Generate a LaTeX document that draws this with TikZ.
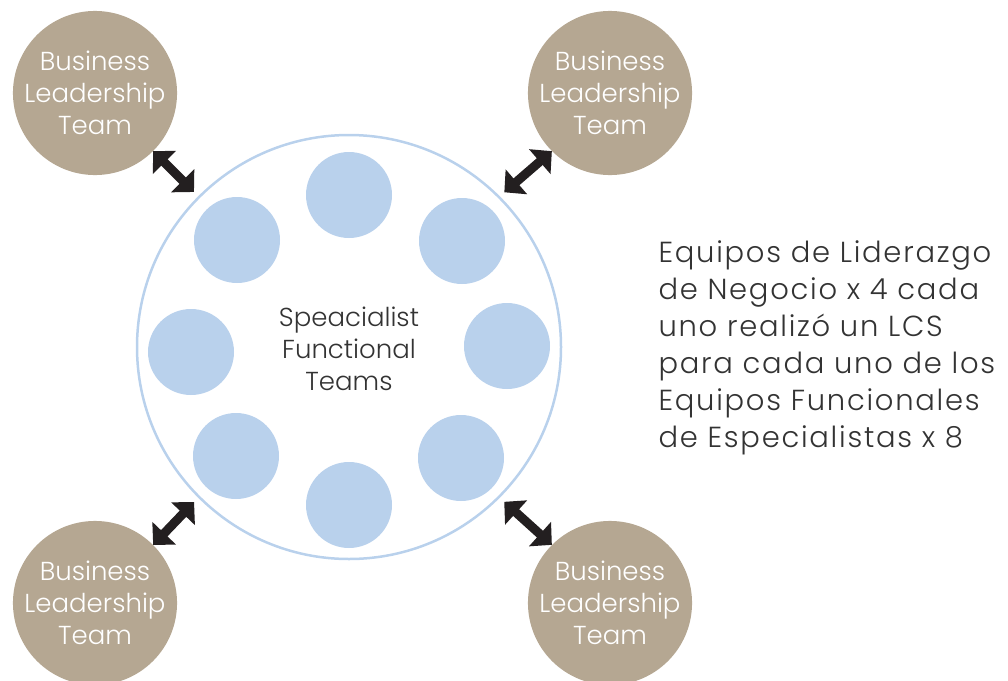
\documentclass[tikz,border=0pt]{standalone}
\usepackage{fontspec}
\IfFontExistsTF{Poppins Light}{\setmainfont{Poppins Light}}{\setmainfont{Poppins}}
\usepackage{tikz}
\usetikzlibrary{positioning,arrows.meta}
\definecolor{BizTan}{HTML}{B5A792}
\definecolor{TeamBlue}{HTML}{B9D1EC}
\definecolor{ArrowBlack}{HTML}{231F20}
\definecolor{TextGray}{HTML}{333333}
\tikzstyle{BizNode}=[circle, fill=BizTan, minimum size=164pt, inner sep=0pt, align=center, text=white, font=\fontsize{26}{32}\selectfont]
\tikzstyle{RingNode}=[circle, draw=TeamBlue, line width=2.5pt, minimum size=424pt, inner sep=0pt]
\tikzstyle{TeamNode}=[circle, fill=TeamBlue, minimum size=86pt, inner sep=0pt]
\tikzstyle{BigArrow}=[ArrowBlack, line width=9pt, {Triangle[length=16pt,width=32pt]}-{Triangle[length=16pt,width=32pt]}, shorten <=0pt, shorten >=6pt]

\begin{document}
\begin{tikzpicture}[x=1pt, y=-1pt]

    \useasboundingbox (0,0) rectangle (1008,680);

    \node (SpecRing) [RingNode] at (349,347) {};
    \node (SpecLabel) [align=center, text=TextGray, font=\fontsize{26}{32}\selectfont] at (349,349) {Speacialist\\ Functional\\ Teams};

    \node (TeamN)  [TeamNode] at (349,195) {};
    \node (TeamNE) [TeamNode] at (462,241) {};
    \node (TeamE)  [TeamNode] at (507,346) {};
    \node (TeamSE) [TeamNode] at (461,458) {};
    \node (TeamS)  [TeamNode] at (349,505) {};
    \node (TeamSW) [TeamNode] at (236,456) {};
    \node (TeamW)  [TeamNode] at (191,352) {};
    \node (TeamNW) [TeamNode] at (237,240) {};

    \node (BizNW) [BizNode] at (95,93)  {Business\\ Leadership\\ Team};
    \node (BizNE) [BizNode] at (610,93) {Business\\ Leadership\\ Team};
    \node (BizSW) [BizNode] at (95,603) {Business\\ Leadership\\ Team};
    \node (BizSE) [BizNode] at (610,603) {Business\\ Leadership\\ Team};

    \node (NoteText) [anchor=west, align=left, text=TextGray, font=\fontsize{29}{37}\selectfont\addfontfeature{LetterSpace=6}] at (655,348)
    {Equipos de Liderazgo\\ de Negocio x 4 cada\\ uno realizó un LCS\\ para cada uno de los\\ Equipos Funcionales\\ de Especialistas x 8};

    \draw [BigArrow] (BizNW.south east) -- (SpecRing.north west);
    \draw [BigArrow] (BizNE.south west) -- (SpecRing.north east);
    \draw [BigArrow] (BizSW.north east) -- (SpecRing.south west);
    \draw [BigArrow] (BizSE.north west) -- (SpecRing.south east);

\end{tikzpicture}
\end{document}
